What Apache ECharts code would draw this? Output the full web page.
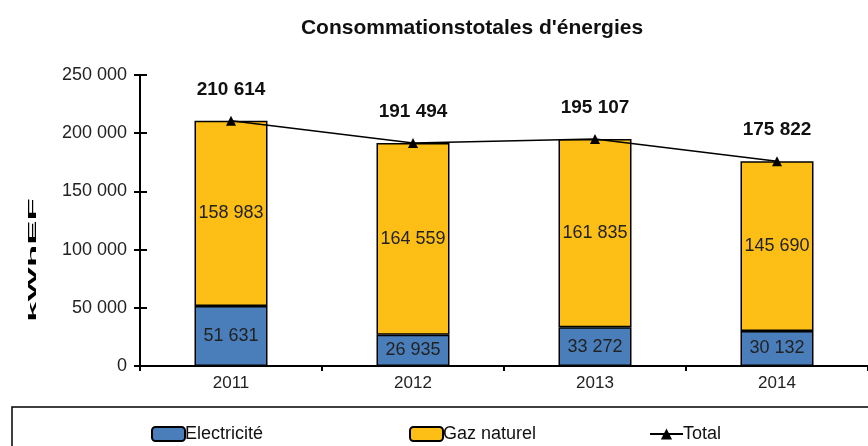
<!DOCTYPE html>
<html><head><meta charset="utf-8">
<script src="https://cdn.jsdelivr.net/npm/echarts@6/dist/echarts.min.js"></script>
<style>html,body{margin:0;padding:0;background:#fff}#c{width:868px;height:446px}</style>
</head><body><div id="c"></div>
<script>
const categories = ['2011', '2012', '2013', '2014'];
const electricite = [51631, 26935, 33272, 30132];
const gaz = [158983, 164559, 161835, 145690];
const total = [210614, 191494, 195107, 175822];
const yTicks = { min: 0, max: 250000, interval: 50000 };

const fmt = v => String(v).replace(/\B(?=(\d{3})+(?!\d))/g, ' ');
const FONT = 'Liberation Sans';
const chart = echarts.init(document.getElementById('c'));
const legendText = { fontFamily: FONT, fontSize: 18, color: '#111', padding: [0, 0, 0, -5] };
chart.setOption({
  animation: false,
  backgroundColor: '#fff',
  textStyle: { fontFamily: FONT },
  title: {
    text: "Consommationstotales d'énergies",
    left: 467, top: 13, textAlign: 'center',
    textStyle: { fontFamily: FONT, fontWeight: 'bold', fontSize: 21, color: '#111' }
  },
  grid: { left: 140, right: -3, top: 75, bottom: 80 },
  xAxis: {
    type: 'category', data: categories,
    axisLine: { lineStyle: { color: '#000', width: 2 } },
    axisTick: { show: true, length: 5, lineStyle: { color: '#000', width: 2 } },
    axisLabel: { fontFamily: FONT, fontSize: 17, color: '#222', margin: 9 }
  },
  yAxis: [{
    type: 'value', min: yTicks.min, max: yTicks.max, interval: yTicks.interval,
    splitLine: { show: false },
    axisLine: { show: true, lineStyle: { color: '#000', width: 2 } },
    axisTick: { show: true, length: 6, lineStyle: { color: '#000', width: 2 } },
    axisLabel: { fontFamily: FONT, fontSize: 18, color: '#222', margin: 13, formatter: v => fmt(v) }
  }, {
    type: 'value', position: 'left', min: yTicks.min, max: yTicks.max, interval: yTicks.interval,
    splitLine: { show: false },
    axisLine: { show: false },
    axisTick: { show: true, inside: true, length: 7, lineStyle: { color: '#000', width: 2 } },
    axisLabel: { show: false }
  }],
  graphic: [
    { type: 'text', x: 33, y: 260, rotation: Math.PI / 2, scaleX: 2.6, scaleY: 0.75,
      style: { text: 'kWhEF', fontFamily: FONT, fontWeight: 'bold', fontSize: 14, fill: '#000', align: 'center', verticalAlign: 'middle' } },
    { type: 'rect', shape: { x: 12, y: 407, width: 870, height: 50 },
      style: { fill: 'none', stroke: '#000', lineWidth: 1.5 } }
  ],
  legend: [
    { data: ['Electricité'], left: 146, top: 420, itemWidth: 33, itemHeight: 14, itemGap: 0, textStyle: legendText },
    { data: ['Gaz naturel'], left: 404, top: 420, itemWidth: 33, itemHeight: 14, itemGap: 0, textStyle: legendText },
    { data: ['Total'], left: 644, top: 420, itemWidth: 33, itemHeight: 14, itemGap: 0, textStyle: legendText }
  ],
  series: [
    { name: 'Electricité', type: 'bar', stack: 's', data: electricite, barWidth: 73,
      itemStyle: { color: '#4a7ebb', borderColor: '#000', borderWidth: 1.5 },
      label: { show: true, position: 'inside', fontFamily: FONT, fontSize: 18, color: '#222', formatter: p => fmt(p.value) } },
    { name: 'Gaz naturel', type: 'bar', stack: 's', data: gaz, barWidth: 73,
      itemStyle: { color: '#fdbf16', borderColor: '#000', borderWidth: 1.5 },
      label: { show: true, position: 'inside', fontFamily: FONT, fontSize: 18, color: '#222', formatter: p => fmt(p.value) } },
    { name: 'Total', type: 'line', data: total, symbol: 'triangle', symbolSize: 10,
      lineStyle: { color: '#000', width: 1.5 }, itemStyle: { color: '#000' },
      label: { show: true, position: 'top', distance: 17, fontFamily: FONT, fontWeight: 'bold', fontSize: 19, color: '#111', formatter: p => fmt(p.value) } }
  ]
});
</script></body></html>
